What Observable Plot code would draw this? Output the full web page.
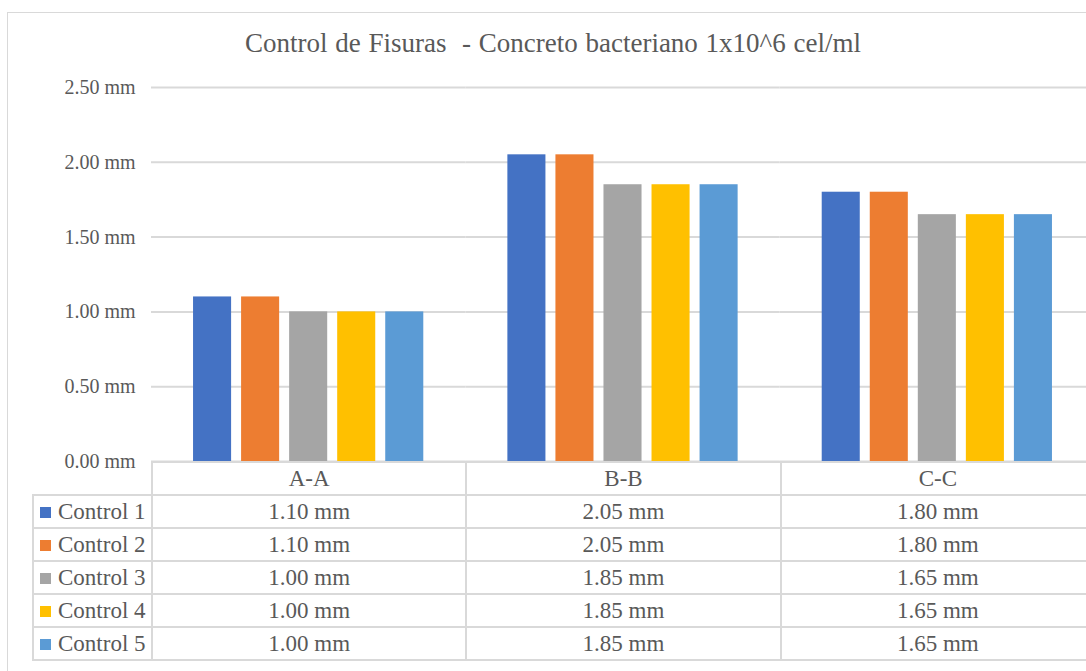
<!DOCTYPE html>
<html>
<head>
<meta charset="utf-8">
<script src="https://cdn.jsdelivr.net/npm/d3@7"></script>
<script src="https://cdn.jsdelivr.net/npm/@observablehq/plot@0.6"></script>
<style>
  html, body { margin: 0; padding: 0; width: 1086px; height: 671px; overflow: hidden; background: #fff; }
  #frame { position: absolute; left: 7px; top: 12px; width: 1200px; height: 800px; border: 1px solid #d9d9d9; box-sizing: border-box; }
  #title { position: absolute; left: 0; width: 1106px; top: 30px; line-height: 27px; text-align: center; font-family: "Liberation Serif", serif; font-size: 27px; color: #595959; word-spacing: 1px; white-space: pre; }
  #chart { position: absolute; left: 0; top: 0; width: 1100px; }
  #chart svg { max-width: none !important; }
  #table { position: absolute; left: 32px; top: 461px; border-collapse: collapse; font-family: "Liberation Serif", serif; font-size: 23px; color: #595959; table-layout: fixed; }
  #table td { border: 2px solid #d9d9d9; height: 33px; padding: 0; text-align: center; box-sizing: border-box; white-space: nowrap; line-height: 29px; }
  #table td.leg { text-align: left; padding-left: 6px; }
  #table td.blank { border: none; }
  .sw { display: inline-block; width: 11px; height: 11px; margin-right: 7px; vertical-align: 1px; }
</style>
</head>
<body>
<div id="frame"></div>
<div id="title">Control de Fisuras  - Concreto bacteriano 1x10^6 cel/ml</div>
<div id="chart"></div>
<table id="table"></table>
<script>
const categories = ["A-A", "B-B", "C-C"];
const series = ["Control 1", "Control 2", "Control 3", "Control 4", "Control 5"];
const colors = ["#4472C4", "#ED7D31", "#A5A5A5", "#FFC000", "#5B9BD5"];
const control1 = [1.10, 2.05, 1.80];
const control2 = [1.10, 2.05, 1.80];
const control3 = [1.00, 1.85, 1.65];
const control4 = [1.00, 1.85, 1.65];
const control5 = [1.00, 1.85, 1.65];
const yTicks = [0, 0.5, 1.0, 1.5, 2.0, 2.5];

const values = [control1, control2, control3, control4, control5];
const data = [];
series.forEach((s, i) => categories.forEach((c, j) => data.push({series: s, cat: c, value: values[i][j]})));
const fmt = d => d.toFixed(2) + " mm";

const W = 1100, H = 470;
const plot = Plot.plot({
  width: W,
  height: H,
  marginLeft: 151,
  marginRight: 6,
  marginTop: 87,
  marginBottom: 9,
  style: {fontFamily: "Liberation Serif, serif", fontSize: "20px", color: "#595959", background: "transparent", overflow: "visible", maxWidth: "none"},
  fx: {domain: categories, padding: 0, round: false, axis: null},
  x: {domain: series, paddingInner: 0.208, paddingOuter: 0.875, round: false, axis: null},
  y: {domain: [0, 2.5], ticks: yTicks, tickFormat: fmt, tickSize: 0, tickPadding: 16, label: null},
  color: {domain: series, range: colors},
  marks: [
    Plot.ruleY(yTicks, {stroke: "#d9d9d9", strokeWidth: 2}),
    Plot.barY(data, {fx: "cat", x: "series", y: "value", fill: "series"}),
    Plot.axisY({ticks: yTicks, tickFormat: fmt, tickSize: 0, tickPadding: 16, label: null})
  ]
});
document.getElementById("chart").appendChild(plot);

// data table
const table = document.getElementById("table");
const colW = (1094 - 151) / 3;
const cg = document.createElement("colgroup");
[119, colW, colW, colW].forEach(w => { const c = document.createElement("col"); c.style.width = w + "px"; cg.appendChild(c); });
table.appendChild(cg);
table.style.width = (119 + 3 * colW) + "px";
const hr = table.insertRow();
const blank = hr.insertCell(); blank.className = "blank";
categories.forEach(c => { const td = hr.insertCell(); td.textContent = c; });
series.forEach((s, i) => {
  const tr = table.insertRow();
  const td = tr.insertCell(); td.className = "leg";
  const sw = document.createElement("span"); sw.className = "sw"; sw.style.background = colors[i];
  td.appendChild(sw); td.appendChild(document.createTextNode(s));
  values[i].forEach(v => { const c = tr.insertCell(); c.textContent = fmt(v); });
});
</script>
</body>
</html>
